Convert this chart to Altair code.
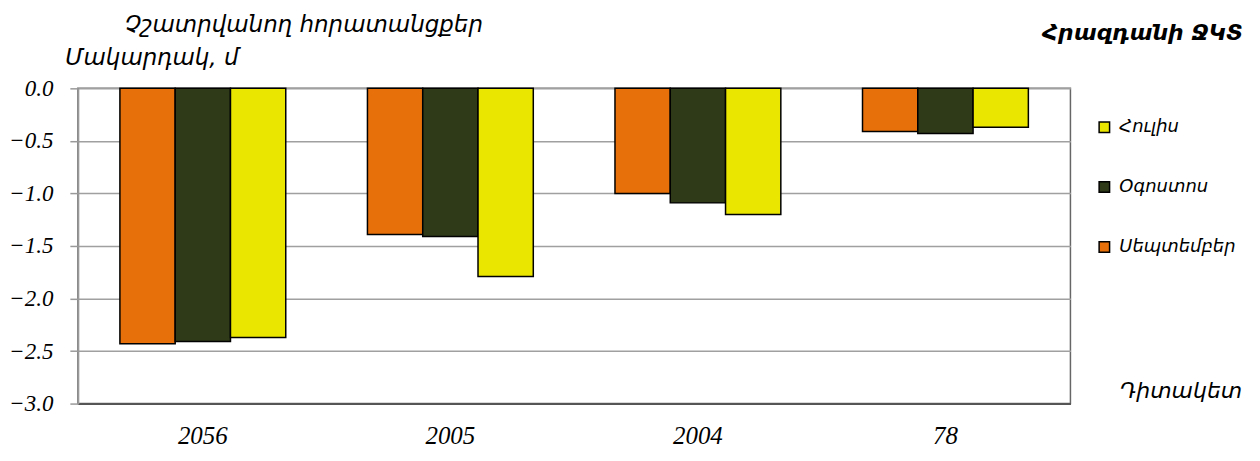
import altair as alt
import pandas as pd

categories = ["2056", "2005", "2004", "78"]
months = ["Սեպտեմբեր", "Օգոստոս", "Հուլիս"]
sep_vals = [-2.43, -1.39, -1.00, -0.41]
aug_vals = [-2.41, -1.41, -1.09, -0.43]
jul_vals = [-2.37, -1.79, -1.20, -0.37]
legend_order = ["Հուլիս", "Օգոստոս", "Սեպտեմբեր"]
colors = ["#EBE600", "#2F3A19", "#E8700A"]

rows = []
for m, vals in zip(months, [sep_vals, aug_vals, jul_vals]):
    for c, v in zip(categories, vals):
        rows.append({"cat": c, "month": m, "val": v})
df = pd.DataFrame(rows)

AFONT = "DejaVu Sans"
NFONT = "Liberation Serif"

bars = alt.Chart(df).mark_bar(stroke="black", strokeWidth=1.5).encode(
    x=alt.X("cat:N", sort=categories,
            scale=alt.Scale(paddingInner=0.33, paddingOuter=0.17),
            axis=alt.Axis(title="Դիտակետ", titleAngle=0, titleAlign="left",
                          titleBaseline="alphabetic", titleX=1044, titleY=-6,
                          titleFont=AFONT, titleFontSize=22, titleFontStyle="italic",
                          titleFontWeight="normal", titleColor="black",
                          labelAngle=0, labelFont=NFONT, labelFontSize=25,
                          labelFontStyle="italic", labelColor="black", labelPadding=20,
                          ticks=False, domainColor="#555555", domainWidth=2)),
    xOffset=alt.XOffset("month:N", sort=months),
    y=alt.Y("val:Q",
            scale=alt.Scale(domain=[-3, 0], nice=False),
            axis=alt.Axis(values=[0, -0.5, -1, -1.5, -2, -2.5, -3], format=".1f",
                          title="Մակարդակ, մ", titleAngle=0, titleAlign="left",
                          titleBaseline="alphabetic", titleX=-13, titleY=-24,
                          titleFont=AFONT, titleFontSize=23, titleFontStyle="italic",
                          titleFontWeight="normal", titleColor="black",
                          labelFont=NFONT, labelFontSize=23, labelFontStyle="italic",
                          labelColor="black", labelPadding=17,
                          tickSize=8, tickColor="#999999", tickWidth=1.5,
                          domainColor="#999999", domainWidth=2,
                          grid=True, gridColor="#A0A0A0", gridWidth=1.5)),
    color=alt.Color("month:N", scale=alt.Scale(domain=legend_order, range=colors),
                    legend=alt.Legend(title=None, orient="none", legendX=1020, legendY=30,
                                      symbolType="square", symbolSize=110,
                                      symbolStrokeColor="black", symbolStrokeWidth=1.5,
                                      labelFont=AFONT, labelFontSize=18,
                                      labelFontStyle="italic", labelColor="black",
                                      rowPadding=42, labelOffset=6)),
)

title_df = pd.DataFrame({"t": ["Չշատրվանող հորատանցքեր"]})
title_left = alt.Chart(title_df).mark_text(
    font=AFONT, fontSize=23, fontStyle="italic", align="left", baseline="alphabetic",
    color="black"
).encode(text="t:N", x=alt.value(47), y=alt.value(-56))

title_right_df = pd.DataFrame({"t": ["Հրազդանի ՋԿՏ"]})
title_right = alt.Chart(title_right_df).mark_text(
    font=AFONT, fontSize=22, fontStyle="italic", fontWeight="bold", align="right",
    baseline="alphabetic", color="black"
).encode(text="t:N", x=alt.value(1168), y=alt.value(-48))

chart = alt.layer(bars, title_left, title_right).properties(
    width=995, height=316,
    autosize=alt.AutoSizeParams(type="none"),
    padding={"left": 70, "top": 80, "right": 182, "bottom": 45},
).configure_view(stroke="#666666", strokeWidth=1.5)

chart.save("out.html", embed_options={"renderer": "svg", "actions": False})
